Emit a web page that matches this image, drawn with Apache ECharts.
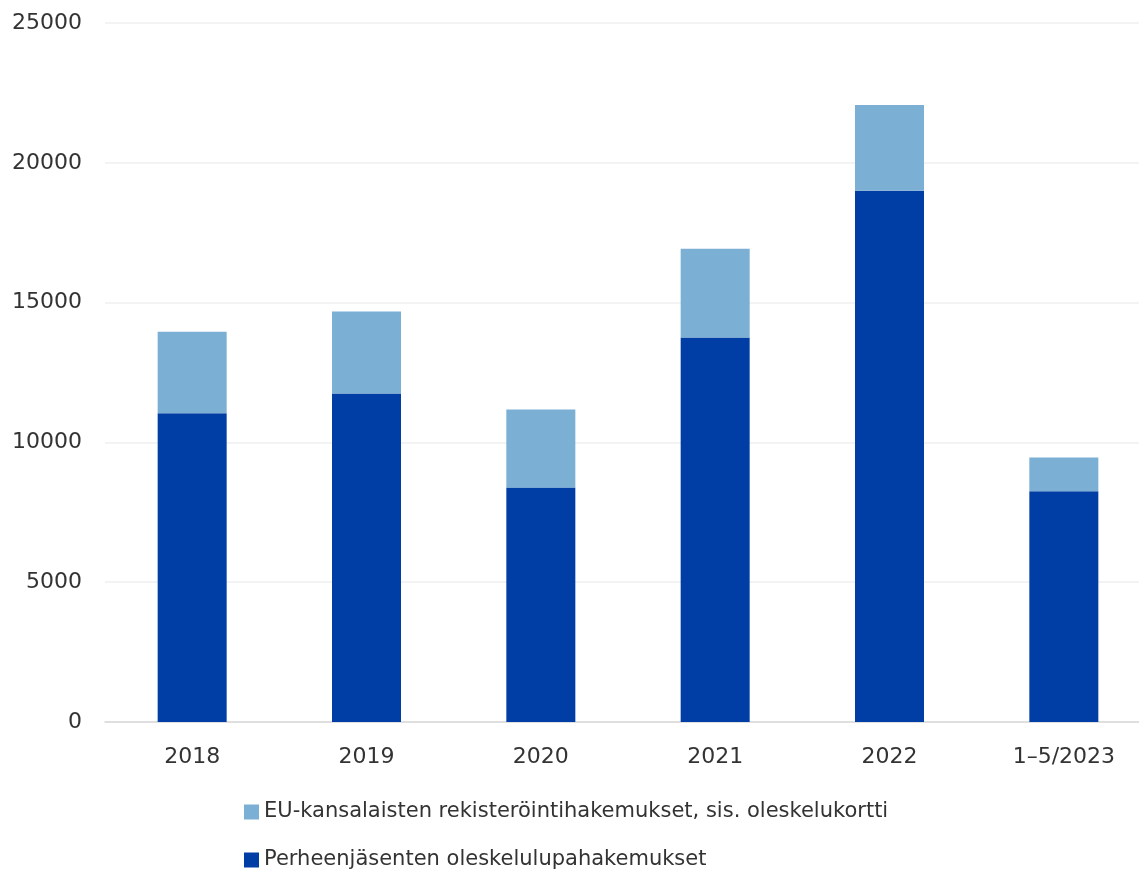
<!DOCTYPE html>
<html>
<head>
<meta charset="utf-8">
<script src="https://cdn.jsdelivr.net/npm/echarts@6/dist/echarts.min.js"></script>
<style>
  html, body { margin: 0; padding: 0; background: #fff; overflow: hidden; }
  #chart { width: 1151px; height: 872px; }
</style>
</head>
<body>
<div id="chart"></div>
<script>
const categories = ["2018", "2019", "2020", "2021", "2022", "1–5/2023"];
const perheValues = [11040, 11750, 8390, 13750, 19000, 8250];
const euValues = [2920, 2930, 2790, 3180, 3070, 1210];
const yTicks = [0, 5000, 10000, 15000, 20000, 25000];

const euName = "EU-kansalaisten rekisteröintihakemukset, sis. oleskelukortti";
const perheName = "Perheenjäsenten oleskelulupahakemukset";

// plot runs past the right edge of the picture, like in the original
const chart = echarts.init(document.getElementById("chart"));
const font = "DejaVu Sans";

chart.setOption({
  animation: false,
  color: ["#003DA5", "#7BAFD4"],
  grid: { left: 105, top: 23, right: 0, height: 699, containLabel: false },
  legend: {
    orient: "vertical",
    left: 244,
    top: 800,
    padding: 0,
    itemWidth: 15,
    itemHeight: 15,
    itemGap: 24,
    icon: "rect",
    data: [euName, perheName],
    textStyle: { fontFamily: font, fontSize: 21, lineHeight: 24, color: "#333" }
  },
  xAxis: {
    type: "category",
    data: categories,
    axisLine: { lineStyle: { color: "#d9d9d9", width: 1.5 } },
    axisTick: { show: false },
    axisLabel: { fontFamily: font, fontSize: 22, color: "#333", margin: 24 }
  },
  yAxis: {
    type: "value",
    min: yTicks[0],
    max: yTicks[yTicks.length - 1],
    interval: yTicks[1] - yTicks[0],
    axisLine: { show: false },
    axisTick: { show: false },
    splitLine: { lineStyle: { color: "#efefef", width: 1.5 } },
    axisLabel: { fontFamily: font, fontSize: 22, color: "#333", margin: 23, formatter: (v) => String(v) }
  },
  series: [
    {
      name: perheName,
      type: "bar",
      stack: "total",
      barWidth: 69,
      data: perheValues
    },
    {
      name: euName,
      type: "bar",
      stack: "total",
      barWidth: 69,
      data: euValues
    }
  ]
});
</script>
</body>
</html>
